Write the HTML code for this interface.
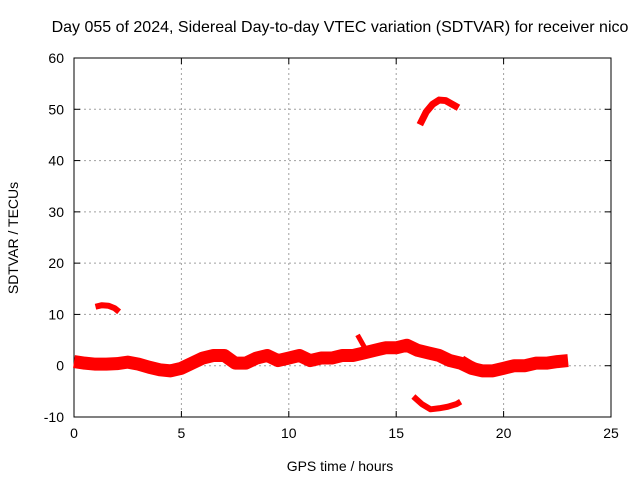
<!DOCTYPE html>
<html><head><meta charset="utf-8"><style>
body{margin:0;background:#fff}
svg{display:block;font-family:"Liberation Sans",sans-serif}
</style></head><body>
<svg id="c" width="640" height="480">
<text x="340" y="32" font-size="16" text-anchor="middle">Day 055 of 2024, Sidereal Day-to-day VTEC variation (SDTVAR) for receiver nico</text>
<g id="grid"></g><g id="axes"></g><g id="marks"></g>
<text x="340" y="471" font-size="14" text-anchor="middle">GPS time / hours</text>
<text transform="translate(18,238) rotate(-90)" font-size="14" text-anchor="middle">SDTVAR / TECUs</text>
</svg>
<script>
const xTicks=[0,5,10,15,20,25];
const yTicks=[-10,0,10,20,30,40,50,60];
const mainHours=[0,0.5,1,1.5,2,2.5,3,3.5,4,4.5,5,5.5,6,6.5,7,7.5,8,8.5,9,9.5,10,10.5,11,11.5,12,12.5,13,13.5,14,14.5,15,15.5,16,16.5,17,17.5,18,18.5,19,19.5,20,20.5,21,21.5,22,22.5,23];
const mainValues=[0.8,0.5,0.3,0.3,0.4,0.7,0.3,-0.3,-0.8,-1,-0.5,0.5,1.5,2,2,0.5,0.5,1.5,2,1,1.5,2,1,1.5,1.5,2,2,2.5,3,3.5,3.5,4,3,2.5,2,1,0.5,-0.5,-1,-1,-0.5,0,0,0.5,0.5,0.8,1];
const highArcHours=[16.1,16.4,16.7,17,17.3,17.6,17.9];
const highArcValues=[47,49.5,51,51.8,51.7,51,50.3];
const smallArcHours=[1.0,1.3,1.6,1.9,2.1];
const smallArcValues=[11.5,11.8,11.7,11.2,10.5];
const lowArcHours=[15.8,16.2,16.6,17,17.4,17.8,18.0];
const lowArcValues=[-6,-7.5,-8.5,-8.3,-8,-7.5,-7];
const branchHours=[18.1,18.5,19];
const branchValues=[1.5,0.5,-0.5];
const spikeHours=[13.2,13.4,13.6];
const spikeValues=[6,4.5,3];

const X0=74,X1=611,Y0=417,Y1=58;
const sx=v=>X0+(v-0)/(25-0)*(X1-X0);
const sy=v=>Y0-(v+10)/(70)*(Y0-Y1);
const NS="http://www.w3.org/2000/svg";
function mk(tag,attrs,parent){const e=document.createElementNS(NS,tag);for(const k in attrs)e.setAttribute(k,attrs[k]);parent.appendChild(e);return e;}
const grid=document.getElementById('grid'),axes=document.getElementById('axes'),marks=document.getElementById('marks');
xTicks.forEach(t=>{
  const x=sx(t);
  if(t>0&&t<25){const g=mk('line',{x1:x,x2:x,y1:Y1,y2:Y0,stroke:'#a0a0a0','stroke-dasharray':'2,3'},grid);
  
  }
  mk('line',{x1:x,x2:x,y1:Y0,y2:Y0-6,stroke:'#000'},axes);
  mk('line',{x1:x,x2:x,y1:Y1,y2:Y1+6,stroke:'#000'},axes);
  const l=mk('text',{x:x,y:Y0+21,'font-size':14,'text-anchor':'middle'},axes);l.textContent=t;
  
  
});
yTicks.forEach(t=>{
  const y=sy(t);
  if(t>-10&&t<60){const g=mk('line',{x1:X0,x2:X1,y1:y,y2:y,stroke:'#a0a0a0','stroke-dasharray':'2,3'},grid);
  
  }
  mk('line',{x1:X0,x2:X0+6,y1:y,y2:y,stroke:'#000'},axes);
  mk('line',{x1:X1,x2:X1-6,y1:y,y2:y,stroke:'#000'},axes);
  const l=mk('text',{x:X0-10,y:y+5,'font-size':14,'text-anchor':'end'},axes);l.textContent=t;
  
  
});
const fr=mk('rect',{x:X0,y:Y1,width:X1-X0,height:Y0-Y1,fill:'none',stroke:'#000'},axes);


function series(hs,vs,w,name){
  const pts=hs.map((h,i)=>sx(h)+','+sy(vs[i])).join(' ');
  const p=mk('polyline',{points:pts,fill:'none',stroke:'#ff0000','stroke-width':w,'stroke-linejoin':'round','stroke-linecap':'butt'},marks);
  
  
}
series(mainHours,mainValues,13,'main-sdtvar-band');
series(highArcHours,highArcValues,7,'high-arc-series');
series(smallArcHours,smallArcValues,6,'small-arc-series');
series(lowArcHours,lowArcValues,6,'low-arc-series');
series(branchHours,branchValues,5,'branch-series');
series(spikeHours,spikeValues,5,'spike-series');
</script>
</body></html>
